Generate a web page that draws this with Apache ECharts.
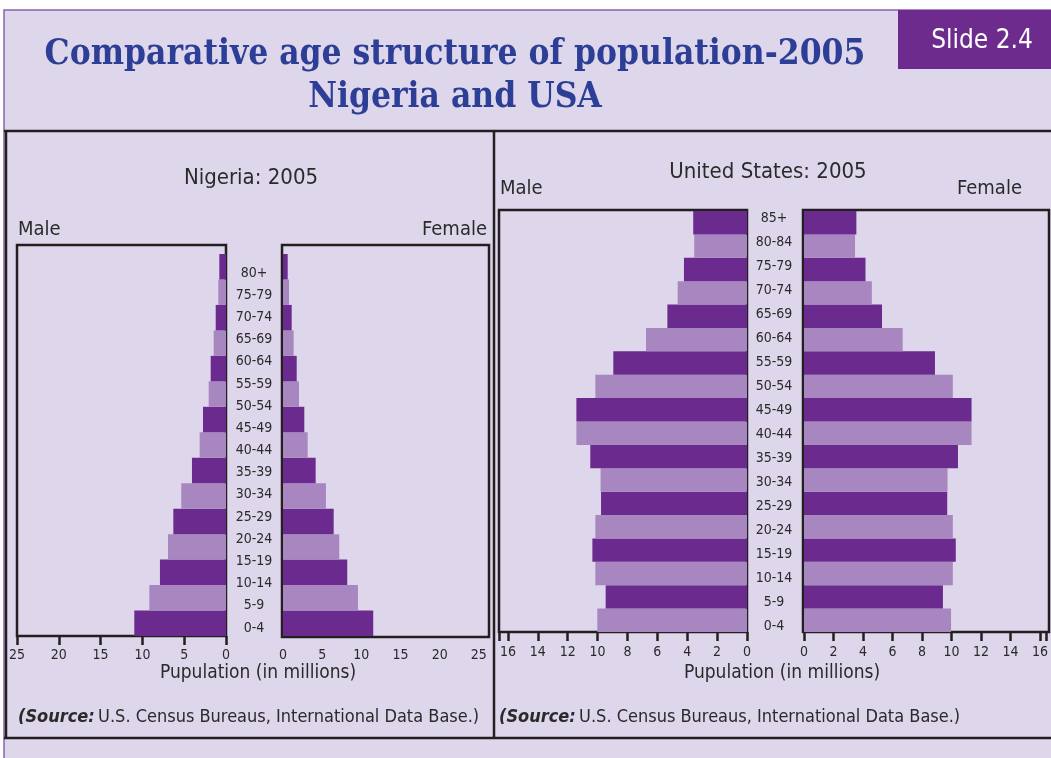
<!DOCTYPE html>
<html>
<head>
<meta charset="utf-8">
<script src="https://cdn.jsdelivr.net/npm/echarts@6/dist/echarts.min.js"></script>
<style>
html,body{margin:0;padding:0;background:#ffffff;}
#chart{width:1051px;height:758px;}
</style>
</head>
<body>
<div id="chart"></div>
<script>
// ---------- data ----------
const nigeriaAgeLabels = ['0-4','5-9','10-14','15-19','20-24','25-29','30-34','35-39','40-44','45-49','50-54','55-59','60-64','65-69','70-74','75-79','80+'];
// Nigeria bars as drawn in the reference (15 bars, bottom to top), millions
const nigeriaMale   = [10.97, 9.17, 7.9, 6.94, 6.3, 5.35, 4.07, 3.15, 2.75, 2.07, 1.83, 1.47, 1.23, 0.92, 0.8];
const nigeriaFemale = [11.52, 9.57, 8.2, 7.18, 6.47, 5.48, 4.17, 3.15, 2.72, 2.04, 1.75, 1.36, 1.11, 0.77, 0.6];
const usAgeLabels = ['0-4','5-9','10-14','15-19','20-24','25-29','30-34','35-39','40-44','45-49','50-54','55-59','60-64','65-69','70-74','75-79','80-84','85+'];
const usMale   = [10.02, 9.46, 10.15, 10.35, 10.15, 9.77, 9.8, 10.49, 11.42, 11.42, 10.15, 8.95, 6.76, 5.33, 4.64, 4.22, 3.53, 3.6];
const usFemale = [9.97, 9.42, 10.09, 10.29, 10.09, 9.71, 9.73, 10.44, 11.36, 11.36, 10.09, 8.88, 6.69, 5.29, 4.6, 4.17, 3.46, 3.55];

// ---------- styles ----------
const DARK = '#6b2b8e', LIGHT = '#a886c0';
const BG = '#ded6ea', INK = '#231f20', TITLE = '#2c3e96';
const SANS = '"DejaVu Sans Condensed", "DejaVu Sans", sans-serif';
const NARROW = '"Liberation Sans Narrow", "DejaVu Sans Condensed", sans-serif';
const SERIF = '"DejaVu Serif Condensed", "DejaVu Serif", serif';

const chart = echarts.init(document.getElementById('chart'), null, {renderer: 'canvas'});

function valueAxis(grid, max, inverse, ticks, margin) {
  const step = grid < 3 ? 5 : 2;
  return {
    type: 'value', gridIndex: grid, min: 0, max: max, interval: step, inverse: inverse,
    axisLine: {show: false}, splitLine: {show: false},
    axisTick: {show: ticks, length: 9, lineStyle: {color: INK, width: 2.5}},
    axisLabel: {show: true, margin: margin, color: '#2a2a2a', fontFamily: SANS, fontSize: 14,
      showMaxLabel: true, showMinLabel: true,
      formatter: v => (Math.abs(v / step - Math.round(v / step)) > 1e-6 ? '' : String(v))}
  };
}
function hiddenValueAxis(grid) {
  return {type: 'value', gridIndex: grid, show: false, min: 0, max: 1};
}
function barAxis(grid, n) {
  return {type: 'category', gridIndex: grid, data: Array.from({length: n}, (_, i) => i), show: false};
}
function labelAxis(grid, labels, margin) {
  return {type: 'category', gridIndex: grid, data: labels, position: 'left',
    axisLine: {show: false}, axisTick: {show: false},
    axisLabel: {align: 'center', margin: margin, color: '#2a2a2a', fontFamily: SANS, fontSize: 14, interval: 0}};
}
function barSeries(x, y, data, darkEven) {
  return {
    type: 'bar', xAxisIndex: x, yAxisIndex: y, data: data, barWidth: '100%', z: 3,
    itemStyle: {color: p => ((p.dataIndex % 2 === 0) === darkEven ? DARK : LIGHT)},
    emphasis: {disabled: true}, silent: true, animation: false
  };
}

function frame(x, y, w, h) {
  return {type: 'rect', z: 1, shape: {x: x, y: y, width: w, height: h},
    style: {fill: null, stroke: INK, lineWidth: 2.5}};
}
function line(x1, y1, x2, y2, color, width) {
  return {type: 'line', z: 1, shape: {x1, y1, x2, y2}, style: {stroke: color, lineWidth: width}};
}
function text(t, x, y, size, align, opts) {
  return Object.assign({type: 'text', z: 5, style: Object.assign({
    text: t, x: x, y: y, fill: '#2a2a2a', fontFamily: SANS, fontSize: size,
    textAlign: align, textVerticalAlign: 'middle'}, opts || {})});
}
function source(x) {
  return {type: 'text', z: 5, style: {
    x: x, y: 717, textVerticalAlign: 'middle', textAlign: 'left',
    text: '{b|(Source:} {r|U.S. Census Bureaus, International Data Base.)}',
    rich: {
      b: {fontFamily: NARROW, fontSize: 18, fontWeight: 'bold', fontStyle: 'italic', fill: '#2a2a2a'},
      r: {fontFamily: NARROW, fontSize: 18, fill: '#2a2a2a'}
    }}};
}

const option = {
  backgroundColor: '#ffffff',
  animation: false,
  grid: [
    {left: 17,  top: 254, width: 209, height: 382},   // 0 Nigeria male
    {left: 283, top: 254, width: 206, height: 382},   // 1 Nigeria female
    {left: 226, top: 262, width: 57,  height: 377},   // 2 Nigeria age labels
    {left: 499, top: 211, width: 248, height: 421},   // 3 US male
    {left: 804, top: 211, width: 245, height: 421},   // 4 US female
    {left: 747, top: 206, width: 57,  height: 432}    // 5 US age labels
  ],
  xAxis: [
    valueAxis(0, 25, true, true, 12),
    valueAxis(1, 26.3, false, false, 12),
    hiddenValueAxis(2),
    valueAxis(3, 16.6, true, true, 13),
    valueAxis(4, 16.4, false, true, 13),
    hiddenValueAxis(5)
  ],
  yAxis: [
    barAxis(0, nigeriaMale.length),
    barAxis(1, nigeriaFemale.length),
    labelAxis(2, nigeriaAgeLabels, -28),
    barAxis(3, usMale.length),
    barAxis(4, usFemale.length),
    labelAxis(5, usAgeLabels, -27)
  ],
  series: [
    barSeries(0, 0, nigeriaMale, true),
    barSeries(1, 1, nigeriaFemale, true),
    barSeries(3, 3, usMale, false),
    barSeries(4, 4, usFemale, false)
  ],
  graphic: [
    // slide background
    {type: 'rect', z: 0, shape: {x: 4, y: 10, width: 1060, height: 760},
      style: {fill: BG, stroke: '#8c62aa', lineWidth: 1.5}},
    // slide tag
    {type: 'rect', z: 2, shape: {x: 898, y: 10, width: 160, height: 59}, style: {fill: '#6c2b8d'}},
    text('Slide 2.4', 982, 41, 26, 'center', {fill: '#ffffff'}),
    // main title
    text('Comparative age structure of population-2005', 455, 55, 35, 'center',
      {fill: TITLE, fontFamily: SERIF, fontWeight: 'bold'}),
    text('Nigeria and USA', 455, 98, 35, 'center',
      {fill: TITLE, fontFamily: SERIF, fontWeight: 'bold'}),
    // panel frame
    line(4, 131, 1051, 131, INK, 2.5),
    line(4, 738, 1051, 738, INK, 2.5),
    line(6, 131, 6, 738, INK, 2.5),
    line(494, 131, 494, 738, INK, 2.5),
    // plot frames
    frame(17, 245, 209, 391),
    frame(282, 245, 207, 392),
    frame(499, 210, 248, 422),
    frame(803, 210, 246, 422),
    // Nigeria texts
    text('Nigeria: 2005', 251, 178, 22, 'center'),
    text('Male', 18, 230, 20, 'left'),
    text('Female', 487, 230, 20, 'right'),
    text('Pupulation (in millions)', 258, 673, 19, 'center'),
    source(18),
    // US texts
    text('United States: 2005', 768, 172, 22, 'center'),
    text('Male', 500, 189, 20, 'left'),
    text('Female', 957, 189, 20, 'left'),
    text('Pupulation (in millions)', 782, 673, 19, 'center'),
    source(499)
  ]
};
chart.setOption(option);
</script>
</body>
</html>
